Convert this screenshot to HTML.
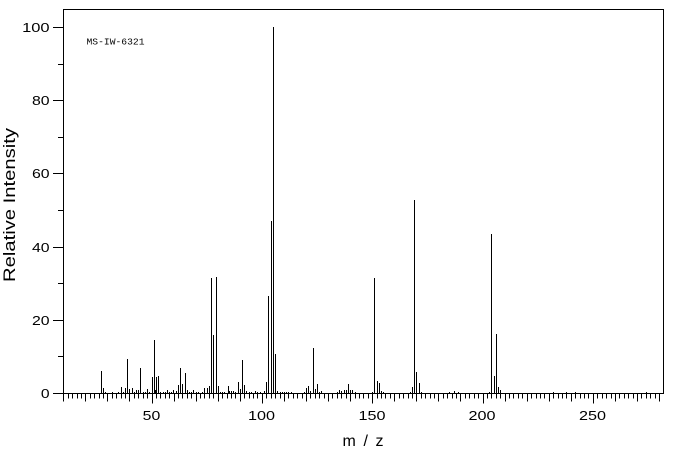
<!DOCTYPE html>
<html><head><meta charset="utf-8"><style>
html,body{margin:0;padding:0;background:#fff;}
svg{display:block;}
text{font-family:"Liberation Sans",sans-serif;fill:#000;}
</style></head><body>
<svg width="676" height="455" viewBox="0 0 676 455" xmlns="http://www.w3.org/2000/svg">
<rect x="0" y="0" width="676" height="455" fill="#fff"/>
<g shape-rendering="crispEdges" stroke="#000" stroke-width="1" fill="none">
<rect x="63.5" y="9.5" width="600" height="384"/>
<!-- y ticks -->
<path d="M53 393.5H63 M58 356.5H63 M53 320.5H63 M58 283.5H63 M53 247.5H63 M58 210.5H63 M53 173.5H63 M58 137.5H63 M53 100.5H63 M58 64.5H63 M53 27.5H63"/>
<!-- x minor ticks -->
<path d="M68.5 393V398.5M72.5 393V398.5M77.5 393V398.5M81.5 393V398.5M90.5 393V398.5M94.5 393V398.5M99.5 393V398.5M103.5 393V398.5M112.5 393V398.5M116.5 393V398.5M121.5 393V398.5M125.5 393V398.5M134.5 393V398.5M138.5 393V398.5M143.5 393V398.5M147.5 393V398.5
M156.5 393V398.5M160.5 393V398.5M165.5 393V398.5M169.5 393V398.5M178.5 393V398.5M182.5 393V398.5M187.5 393V398.5M191.5 393V398.5M200.5 393V398.5M204.5 393V398.5M209.5 393V398.5M213.5 393V398.5M222.5 393V398.5M227.5 393V398.5M231.5 393V398.5M235.5 393V398.5M244.5 393V398.5M249.5 393V398.5M253.5 393V398.5M257.5 393V398.5
M266.5 393V398.5M271.5 393V398.5M275.5 393V398.5M280.5 393V398.5M288.5 393V398.5M293.5 393V398.5M297.5 393V398.5M302.5 393V398.5M310.5 393V398.5M315.5 393V398.5M319.5 393V398.5M324.5 393V398.5M332.5 393V398.5M337.5 393V398.5M341.5 393V398.5M346.5 393V398.5M355.5 393V398.5M359.5 393V398.5M363.5 393V398.5M368.5 393V398.5
M377.5 393V398.5M381.5 393V398.5M385.5 393V398.5M390.5 393V398.5M399.5 393V398.5M403.5 393V398.5M408.5 393V398.5M412.5 393V398.5M421.5 393V398.5M425.5 393V398.5M430.5 393V398.5M434.5 393V398.5M443.5 393V398.5M447.5 393V398.5M452.5 393V398.5M456.5 393V398.5M465.5 393V398.5M469.5 393V398.5M474.5 393V398.5M478.5 393V398.5
M487.5 393V398.5M491.5 393V398.5M496.5 393V398.5M500.5 393V398.5M509.5 393V398.5M513.5 393V398.5M518.5 393V398.5M522.5 393V398.5M531.5 393V398.5M536.5 393V398.5M540.5 393V398.5M544.5 393V398.5M553.5 393V398.5M558.5 393V398.5M562.5 393V398.5M566.5 393V398.5M575.5 393V398.5M580.5 393V398.5M584.5 393V398.5M588.5 393V398.5
M597.5 393V398.5M602.5 393V398.5M606.5 393V398.5M611.5 393V398.5M619.5 393V398.5M624.5 393V398.5M628.5 393V398.5M633.5 393V398.5M641.5 393V398.5M646.5 393V398.5M650.5 393V398.5M655.5 393V398.5"/>
<!-- x medium ticks -->
<path d="M63.5 393V401.5M85.5 393V401.5M107.5 393V401.5M129.5 393V401.5M174.5 393V401.5M196.5 393V401.5M218.5 393V401.5M240.5 393V401.5M284.5 393V401.5M306.5 393V401.5M328.5 393V401.5M350.5 393V401.5M394.5 393V401.5M416.5 393V401.5M438.5 393V401.5M460.5 393V401.5M505.5 393V401.5M527.5 393V401.5M549.5 393V401.5M571.5 393V401.5M615.5 393V401.5M637.5 393V401.5M659.5 393V401.5"/>
<!-- x major ticks -->
<path d="M152.5 393V403.5M262.5 393V403.5M372.5 393V403.5M483.5 393V403.5M593.5 393V403.5"/>
<!-- peaks -->
<path d="M101.5 393V371M103.5 393V388M105.5 393V392M112.5 393V392M118.5 393V392M121.5 393V387M123.5 393V392M125.5 393V388M127.5 393V359M129.5 393V389M132.5 393V388M134.5 393V392M136.5 393V390M138.5 393V390M140.5 393V368M143.5 393V392M145.5 393V392M147.5 393V389M149.5 393V392
M152.5 393V377M154.5 393V340M155.5 393V390M156.5 393V377M158.5 393V376M160.5 393V392M163.5 393V392M165.5 393V392M167.5 393V390M169.5 393V392M171.5 393V392M173.5 393V390M176.5 393V391M178.5 393V385M180.5 393V368M182.5 393V384M185.5 393V373M187.5 393V390M189.5 393V392M191.5 393V392M193.5 393V390M196.5 393V392M198.5 393V392
M202.5 393V392M204.5 393V388M207.5 393V388M209.5 393V386M211.5 393V278M213.5 393V335M216.5 393V277M218.5 393V386M220.5 393V392M222.5 393V392M224.5 393V392M228.5 393V386M229.5 393V391M231.5 393V391M233.5 393V391M235.5 393V392M238.5 393V382M240.5 393V389M242.5 393V360M244.5 393V385M246.5 393V391M249.5 393V392M251.5 393V392M255.5 393V391M257.5 393V392M260.5 393V392M264.5 393V391
M266.5 393V382M268.5 393V296M271.5 393V221M273.5 393V27M275.5 393V354M277.5 393V391M280.5 393V392M282.5 393V392M284.5 393V392M286.5 393V392M288.5 393V392M291.5 393V392M304.5 393V392M306.5 393V388M308.5 393V386M310.5 393V391M313.5 393V348M315.5 393V389M317.5 393V384M319.5 393V392M321.5 393V391
M337.5 393V392M339.5 393V390M341.5 393V391M344.5 393V390M346.5 393V390M348.5 393V384M350.5 393V390M352.5 393V390M355.5 393V392M372.5 393V392M374.5 393V278M377.5 393V381M379.5 393V383M381.5 393V391M383.5 393V392
M410.5 393V392M412.5 393V387M414.5 393V200M416.5 393V372M419.5 393V383M421.5 393V392M449.5 393V392M454.5 393V391M458.5 393V392M489.5 393V392M491.5 393V234M494.5 393V376M496.5 393V334M498.5 393V387M500.5 393V390M553.5 393V392M566.5 393V392M575.5 393V392M646.5 393V392"/>
</g>
<!-- y labels -->
<g font-size="12.5" text-anchor="end">
<text x="49.6" y="398" textLength="8.7" lengthAdjust="spacingAndGlyphs">0</text>
<text x="49.6" y="325" textLength="17.6" lengthAdjust="spacingAndGlyphs">20</text>
<text x="49.6" y="252" textLength="17.6" lengthAdjust="spacingAndGlyphs">40</text>
<text x="49.6" y="178" textLength="17.6" lengthAdjust="spacingAndGlyphs">60</text>
<text x="49.6" y="105" textLength="17.6" lengthAdjust="spacingAndGlyphs">80</text>
<text x="49.6" y="32" textLength="27.5" lengthAdjust="spacingAndGlyphs">100</text>
</g>
<!-- x labels -->
<g font-size="12.5" text-anchor="middle">
<text x="151.5" y="420" textLength="17.6" lengthAdjust="spacingAndGlyphs">50</text>
<text x="261.5" y="420" textLength="27" lengthAdjust="spacingAndGlyphs">100</text>
<text x="372" y="420" textLength="27" lengthAdjust="spacingAndGlyphs">150</text>
<text x="482" y="420" textLength="27" lengthAdjust="spacingAndGlyphs">200</text>
<text x="592.5" y="420" textLength="27" lengthAdjust="spacingAndGlyphs">250</text>
</g>
<text x="363" y="446" font-size="16" text-anchor="middle" textLength="41" lengthAdjust="spacing">m/z</text>
<text transform="translate(15,205) rotate(-90)" font-size="16.5" text-anchor="middle" textLength="154" lengthAdjust="spacingAndGlyphs">Relative Intensity</text>
<text x="86.5" y="44.5" style="font-family:'Liberation Mono',monospace" font-size="9.6" textLength="58" lengthAdjust="spacingAndGlyphs">MS-IW-6321</text>
</svg>
</body></html>
